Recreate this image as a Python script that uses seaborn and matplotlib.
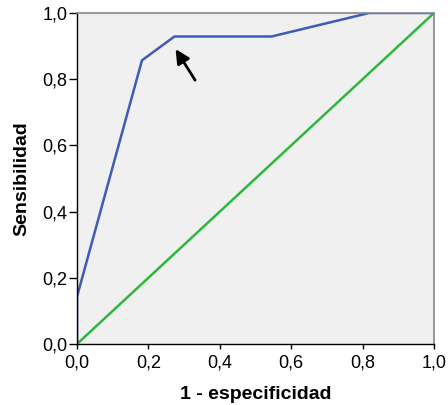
import matplotlib
matplotlib.use("Agg")
import matplotlib.pyplot as plt
import seaborn as sns
import pandas as pd
from matplotlib.ticker import FuncFormatter

fpr = [0.0, 0.0, 0.182, 0.273, 0.545, 0.818, 1.0]
tpr = [0.0, 0.143, 0.857, 0.929, 0.929, 1.0, 1.0]
diag = [0.0, 1.0]
ticks = [0.0, 0.2, 0.4, 0.6, 0.8, 1.0]

sns.set_theme(style="white")
plt.rcParams['font.family'] = ['Liberation Sans', 'DejaVu Sans']

fig = plt.figure(figsize=(4.48, 4.05), dpi=100)
ax = fig.add_axes([77/448, 1-344/405, 357/448, 331/405])
ax.set_facecolor("#f0f0f0")

df = pd.DataFrame({"x": fpr, "y": tpr})
dd = pd.DataFrame({"x": diag, "y": diag})
sns.lineplot(data=dd, x="x", y="y", ax=ax, color="#2db83d", lw=1.8,
             sort=False, estimator=None)
sns.lineplot(data=df, x="x", y="y", ax=ax, color="#3f5bb5", lw=1.8,
             sort=False, estimator=None)

ax.annotate("", xy=(0.272, 0.898), xytext=(0.335, 0.79),
            arrowprops=dict(arrowstyle="-|>,head_length=0.7,head_width=0.35", color="black", lw=2))

ax.set_xlim(0, 1)
ax.set_ylim(0, 1)
ax.set_xticks(ticks)
ax.set_yticks(ticks)
fmt = FuncFormatter(lambda v, p: f"{v:.1f}".replace(".", ","))
ax.xaxis.set_major_formatter(fmt)
ax.yaxis.set_major_formatter(fmt)
ax.tick_params(axis="both", which="major", width=1, color="black",
               labelsize=13, labelcolor="black", direction="out",
               bottom=True, left=True)
ax.tick_params(axis="x", length=3.6, pad=4)
ax.tick_params(axis="y", length=6, pad=1)
for s in ["left", "bottom"]:
    ax.spines[s].set_color("black")
    ax.spines[s].set_linewidth(1)
for s in ["top", "right"]:
    ax.spines[s].set_color("#888888")
    ax.spines[s].set_linewidth(1.2)

ax.set_xlabel("1 - especificidad", fontsize=14, fontweight="bold", labelpad=10.5, color="black")
ax.set_ylabel("Sensibilidad", fontsize=14, fontweight="bold", labelpad=8.5, color="black")

fig.savefig("out.png", dpi=100)
